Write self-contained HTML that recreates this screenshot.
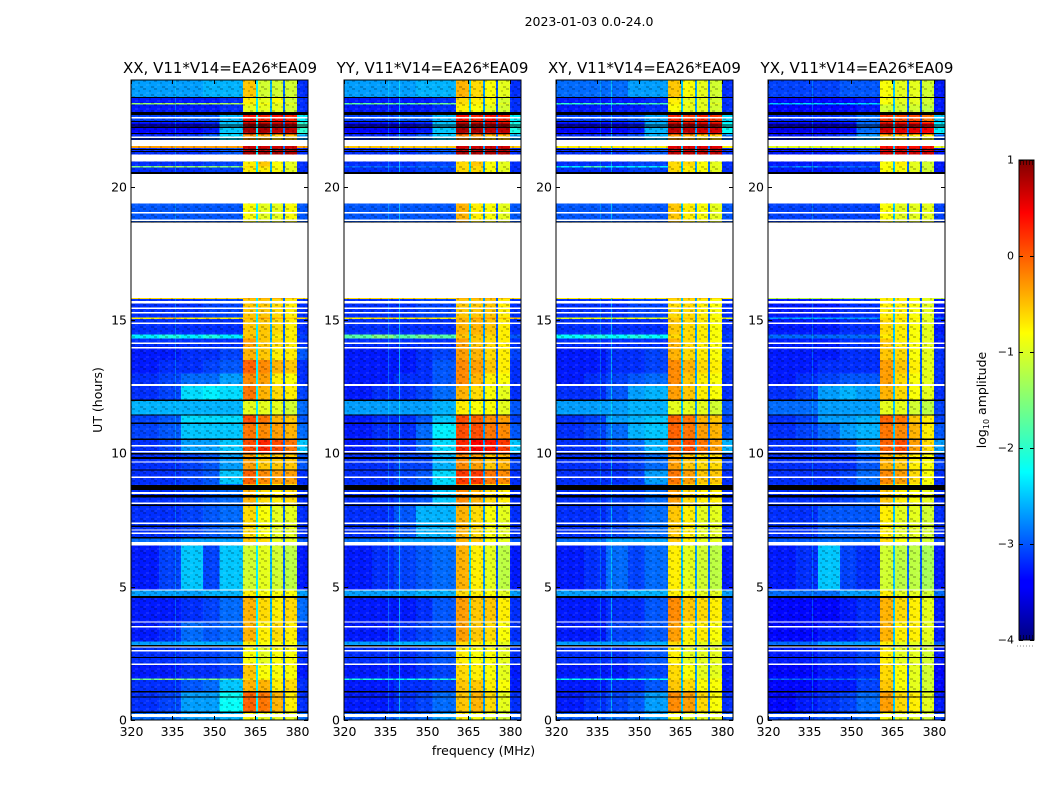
<!DOCTYPE html>
<html lang="en">
<head>
<meta charset="utf-8">
<title>2023-01-03 0.0-24.0</title>
<style>
html,body{margin:0;padding:0;background:#fff;width:1050px;height:800px;overflow:hidden}
svg{display:block}
text{font-family:"DejaVu Sans","Liberation Sans",sans-serif;fill:#000}
</style>
</head>
<body>
<svg id="figure" xmlns="http://www.w3.org/2000/svg" width="1050" height="800" viewBox="0 0 1050 800">
  <defs>
    <pattern id="speckle" width="11" height="8" patternUnits="userSpaceOnUse">
      <rect x="0" y="0" width="3" height="2" fill="#000" opacity="0.2"/>
      <rect x="6" y="2" width="2" height="2" fill="#000" opacity="0.16"/>
      <rect x="3" y="4" width="3" height="2" fill="#fff" opacity="0.08"/>
      <rect x="8" y="6" width="3" height="2" fill="#000" opacity="0.2"/>
      <rect x="1" y="6" width="2" height="2" fill="#fff" opacity="0.06"/>
    </pattern>
    <linearGradient id="jet-gradient" x1="0" y1="1" x2="0" y2="0">
      <stop offset="0" stop-color="#00007f"/>
      <stop offset="0.11" stop-color="#0000ff"/>
      <stop offset="0.125" stop-color="#0000ff"/>
      <stop offset="0.35" stop-color="#00ffff"/>
      <stop offset="0.38" stop-color="#19ffdd"/>
      <stop offset="0.64" stop-color="#ffff00"/>
      <stop offset="0.66" stop-color="#ffea00"/>
      <stop offset="0.89" stop-color="#ff0000"/>
      <stop offset="1" stop-color="#7f0000"/>
    </linearGradient>
  </defs>
  <text x="589" y="26" font-size="12.5" text-anchor="middle">2023-01-03 0.0-24.0</text>
  <text x="220" y="73" font-size="15" text-anchor="middle">XX, V11*V14=EA26*EA09</text>
  <text x="432.5" y="73" font-size="15" text-anchor="middle">YY, V11*V14=EA26*EA09</text>
  <text x="644.5" y="73" font-size="15" text-anchor="middle">XY, V11*V14=EA26*EA09</text>
  <text x="857" y="73" font-size="15" text-anchor="middle">YX, V11*V14=EA26*EA09</text>
  <text font-size="12.5" text-anchor="middle" transform="translate(102,400) rotate(-90)">UT (hours)</text>
  <text x="483.5" y="755" font-size="12.5" text-anchor="middle">frequency (MHz)</text>
  <text font-size="12.5" text-anchor="middle" transform="translate(986,400) rotate(-90)">log<tspan font-size="8" dy="3">10</tspan><tspan dy="-3"> amplitude</tspan></text>
  <g id="panels"></g>
  <g id="colorbar"></g>
</svg>
<script>
// Time axis (hours) and channel blocks (MHz)
const timeEdges = [0,0.32,1.04,1.5,1.56,2.1,2.8,2.95,3.7,4.6,4.9,6.6,6.85,8.05,8.85,9.4,9.98,10.5,11.1,11.45,12,12.55,13,13.5,14,14.3,14.46,15.03,15.09,15.78,15.82,18.65,19.37,20.5,20.72,20.78,20.95,21.2,21.45,21.52,21.75,21.95,22.4,22.8,23.08,23.14,23.35,24];
const channelBlocks = [[320,330],[330,338],[338,346],[346,352],[352,360.4],[360.4,365.1],[365.8,370.2],[370.9,374.9],[375.6,379.9],[379.9,384]];
const gapBlocks = [[365.1,365.8],[370.2,370.9],[374.9,375.6]];
const xTickLabels = [320,335,350,365,380];
const yTickLabels = [0,5,10,15,20];
const colorbarTicks = [1,0,-1,-2,-3,-4];
const whiteBands = [[0.12,0.22],[2.06,2.11],[2.56,2.62],[2.72,2.76],[3.47,3.52],[3.65,3.7],[4.85,4.9],[6.55,6.68],[6.98,7.03],[7.1,7.15],[7.35,7.4],[8.1,8.16],[8.48,8.55],[9.08,9.14],[9.65,9.7],[10.04,10.09],[10.26,10.31],[12.52,12.6],[13.94,13.99],[14.1,14.16],[14.85,14.9],[15.25,15.3],[15.42,15.47],[15.62,15.72],[18.72,18.76],[19,19.05],[21.56,21.72],[21.82,21.88],[22.55,22.62]];
const blackBands = [[0.27,0.32],[0.84,0.88],[1.04,1.08],[2.33,2.37],[2.76,2.81],[4.57,4.65],[6.8,6.86],[7.23,7.29],[8.03,8.08],[8.35,8.44],[8.62,8.82],[9.35,9.39],[9.78,9.86],[9.96,10.02],[10.5,10.55],[11.1,11.15],[11.42,11.46],[11.97,12.02],[18.65,18.69],[20.48,20.55],[21.3,21.33],[21.38,21.42],[21.76,21.8],[21.98,22.02],[22.2,22.25],[22.3,22.34],[22.42,22.46],[22.68,22.8],[23.33,23.37]];

// log10 amplitude per time row and channel block
const xxGaps = [-2.2,-2.5,-2.7];
const yyGaps = [-2.3,-2.6,-2.8];
const xyGaps = [-2.4,-2.6,-2.7];
const yxGaps = [-2.4,-2.7,-2.8];
const rfiXX = [336];
const rfiYY = [336,339.9];
const rfiXY = [336,339.9];
const rfiYX = [336];
const xxCells = [
[-2.7,-2.7,-2.6,-2.6,-2.5,-0.9,-1.0,-1.0,-1.0,-2.7],
[-3.0,-2.9,-2.6,-2.6,-2.1,-0.1,-0.2,-0.5,-0.8,-3.0],
[-3.0,-3.0,-2.8,-2.7,-2.4,-0.5,-0.5,-0.8,-0.7,-3.0],
[-1.6,-1.4,-1.6,-1.5,-1.7,-0.7,-0.8,-0.8,-0.8,-3.0],
[-3.1,-3.1,-3.0,-3.0,-2.9,-0.6,-0.9,-0.9,-0.9,-3.1],
[-3.0,-3.0,-2.9,-2.9,-2.8,-0.9,-1.0,-0.9,-0.9,-3.0],
[-2.6,-2.6,-2.5,-2.5,-2.5,-0.8,-0.9,-0.9,-0.9,-2.7],
[-3.1,-3.0,-2.7,-2.8,-2.7,-0.5,-0.8,-0.7,-0.8,-3.0],
[-3.1,-3.1,-3.0,-2.9,-2.7,-0.5,-0.7,-0.8,-0.7,-2.7],
[-2.6,-2.6,-2.6,-2.5,-2.5,-0.8,-0.9,-0.9,-0.9,-2.6],
[-3.1,-2.9,-2.4,-2.9,-2.4,-1.1,-1.0,-1.1,-1.2,-3.1],
[-2.7,-2.7,-2.6,-2.6,-2.6,-0.6,-0.7,-1.0,-1.0,-2.8],
[-3.0,-3.0,-2.9,-2.8,-2.7,-0.7,-0.9,-1.0,-1.0,-3.0],
[-3.0,-3.0,-2.9,-2.8,-2.7,-0.5,-0.7,-0.8,-0.7,-3.0],
[-3.0,-3.0,-2.9,-2.8,-2.4,-0.1,-0.3,-0.4,-0.4,-3.0],
[-3.0,-3.0,-2.9,-2.8,-2.6,-0.4,-0.6,-0.6,-0.6,-2.8],
[-3.0,-2.9,-2.6,-2.6,-2.4,0.0,0.2,0.0,-0.2,-2.4],
[-2.9,-2.8,-2.4,-2.4,-2.4,-0.2,-0.3,-0.4,-0.5,-2.7],
[-2.9,-2.8,-2.3,-2.3,-2.3,0.0,-0.2,-0.5,-0.6,-2.8],
[-2.5,-2.5,-2.5,-2.5,-2.5,-1.0,-1.0,-1.0,-1.1,-2.7],
[-3.0,-2.9,-2.3,-2.2,-2.3,-0.2,-0.5,-0.7,-0.8,-2.9],
[-3.0,-2.9,-2.7,-2.7,-2.6,-0.3,-0.4,-0.8,-0.9,-3.0],
[-3.1,-3.0,-3.0,-2.9,-2.8,-0.1,-0.3,-0.5,-0.6,-3.0],
[-3.1,-3.1,-3.0,-3.0,-2.9,-0.5,-0.6,-0.8,-0.8,-2.8],
[-3.0,-3.0,-3.0,-3.0,-3.0,-0.4,-0.6,-0.7,-0.8,-3.0],
[-2.2,-2.0,-2.2,-2.0,-2.2,-0.6,-0.6,-0.8,-0.8,-2.9],
[-3.0,-3.0,-3.0,-3.0,-3.0,-0.6,-0.6,-0.7,-0.8,-3.0],
[-0.8,-0.6,-0.8,-0.7,-0.8,-0.5,-0.4,-0.5,-0.6,-0.7],
[-3.0,-3.0,-3.0,-2.9,-2.9,-0.6,-0.6,-0.7,-0.8,-3.0],
[-0.7,-0.7,-0.7,-0.7,-0.7,-0.5,-0.5,-0.5,-0.6,-0.7],
null,
[-2.8,-2.8,-2.8,-2.8,-2.8,-0.9,-1.0,-1.0,-0.9,-2.8],
null,
[-3.0,-3.0,-3.0,-2.9,-2.9,-0.8,-0.8,-0.9,-1.0,-3.0],
[-1.5,-1.3,-1.4,-1.4,-1.5,-0.7,-0.7,-0.9,-1.0,-3.0],
[-3.0,-3.0,-3.0,-2.9,-2.9,-0.8,-0.6,-0.9,-1.0,-3.0],
null,
[-3.0,-3.0,-3.0,-2.9,-2.8,0.8,0.8,0.8,0.8,-3.0],
[-0.4,-0.4,-0.4,-0.4,-0.4,0.6,0.6,0.6,0.6,-0.4],
null,
[-3.0,-3.0,-2.9,-2.7,-2.3,-0.4,-0.5,-0.7,-0.6,-2.6],
[-3.2,-3.2,-3.2,-3.1,-2.4,0.8,0.8,0.7,0.7,-1.9],
[-2.9,-2.9,-2.8,-2.8,-2.5,0.3,0.2,0.3,0.2,-2.2],
[-3.1,-3.1,-3.1,-3.1,-3.0,-1.0,-1.0,-1.0,-1.1,-3.0],
[-1.4,-1.3,-1.4,-1.3,-1.3,-0.8,-0.9,-1.0,-1.0,-3.0],
[-3.1,-3.1,-3.1,-3.1,-3.0,-0.8,-1.0,-0.9,-1.1,-3.0],
[-2.6,-2.6,-2.6,-2.5,-2.5,-0.6,-1.1,-1.1,-1.1,-3.0]
];
const yyCells = [
[-2.8,-2.8,-2.7,-2.7,-2.6,-0.8,-0.9,-1.0,-1.1,-2.8],
[-3.1,-3.1,-3.0,-2.9,-2.7,-0.6,-0.5,-0.7,-1.0,-3.0],
[-3.1,-3.1,-3.0,-3.0,-2.9,-0.6,-0.6,-0.8,-0.9,-3.1],
[-2.0,-2.0,-2.1,-2.0,-2.0,-0.7,-0.8,-0.9,-1.0,-3.0],
[-3.1,-3.1,-3.1,-3.0,-2.9,-0.7,-0.8,-0.9,-1.0,-3.1],
[-3.0,-3.0,-3.0,-2.9,-2.8,-0.8,-0.9,-0.9,-1.0,-3.0],
[-2.6,-2.6,-2.5,-2.5,-2.5,-0.7,-0.8,-0.9,-1.0,-2.7],
[-3.1,-3.1,-3.0,-2.9,-2.8,-0.4,-0.6,-0.7,-0.9,-3.0],
[-3.1,-3.1,-3.1,-3.0,-2.8,-0.4,-0.6,-0.6,-0.8,-3.0],
[-2.6,-2.6,-2.6,-2.5,-2.5,-0.7,-0.8,-0.9,-1.0,-2.6],
[-3.1,-3.0,-2.9,-2.8,-2.7,-0.5,-0.8,-1.0,-1.2,-3.1],
[-2.7,-2.7,-2.6,-2.6,-2.6,-0.5,-0.6,-0.9,-1.0,-2.8],
[-3.0,-3.0,-2.8,-2.5,-2.5,-0.5,-0.7,-0.9,-1.0,-3.0],
[-3.0,-3.0,-2.9,-2.8,-2.4,-0.3,-0.5,-0.7,-0.8,-3.0],
[-3.0,-3.0,-2.9,-2.8,-2.3,0.1,0.1,-0.2,-0.3,-3.0],
[-3.0,-3.0,-2.9,-2.9,-2.5,-0.3,-0.4,-0.6,-0.5,-2.9],
[-3.1,-3.0,-3.0,-2.7,-2.3,0.2,0.4,0.3,0.1,-2.4],
[-3.1,-3.0,-3.0,-2.7,-2.2,0.0,0.0,-0.2,-0.3,-2.8],
[-3.1,-3.0,-3.0,-2.8,-2.4,0.0,-0.1,-0.3,-0.4,-2.9],
[-2.6,-2.6,-2.6,-2.6,-2.5,-0.8,-0.9,-0.9,-1.0,-2.8],
[-3.1,-3.0,-3.0,-2.9,-2.7,-0.5,-0.7,-0.9,-1.0,-3.0],
[-3.1,-3.1,-3.0,-3.0,-2.8,-0.3,-0.5,-0.8,-0.9,-3.0],
[-3.1,-3.1,-3.1,-3.0,-2.8,-0.3,-0.4,-0.6,-0.8,-3.0],
[-3.1,-3.1,-3.1,-3.0,-2.9,-0.4,-0.5,-0.7,-0.8,-2.9],
[-3.0,-3.0,-3.0,-3.0,-3.0,-0.4,-0.6,-0.7,-0.8,-3.0],
[-1.7,-1.5,-1.7,-1.6,-1.7,-0.6,-0.6,-0.7,-0.8,-2.8],
[-3.0,-3.0,-3.0,-3.0,-3.0,-0.5,-0.5,-0.6,-0.8,-3.0],
[-0.8,-0.7,-0.8,-0.7,-0.8,-0.5,-0.4,-0.4,-0.6,-0.6],
[-3.0,-3.0,-3.0,-2.9,-2.9,-0.6,-0.6,-0.6,-0.8,-3.0],
[-0.7,-0.7,-0.7,-0.7,-0.7,-0.5,-0.5,-0.5,-0.6,-0.7],
null,
[-2.8,-2.8,-2.8,-2.8,-2.8,-0.5,-0.8,-0.9,-1.0,-2.8],
null,
[-3.0,-3.0,-3.0,-2.9,-2.9,-0.7,-0.7,-0.9,-1.0,-3.0],
[-2.7,-2.7,-2.7,-2.7,-2.7,-0.7,-0.7,-0.9,-1.0,-3.0],
[-3.0,-3.0,-3.0,-2.9,-2.9,-0.7,-0.6,-0.9,-1.0,-3.0],
null,
[-3.0,-3.0,-3.0,-2.9,-2.8,0.8,0.8,0.8,0.8,-3.0],
[-0.6,-0.6,-0.6,-0.6,-0.6,0.6,0.6,0.6,0.6,-0.6],
null,
[-3.0,-3.0,-2.9,-2.7,-2.4,-0.3,-0.4,-0.6,-0.6,-2.6],
[-3.2,-3.2,-3.2,-3.1,-2.4,0.8,0.8,0.7,0.7,-2.0],
[-2.9,-2.9,-2.8,-2.8,-2.5,0.3,0.2,0.3,0.2,-2.2],
[-3.1,-3.1,-3.1,-3.1,-3.0,-0.8,-0.9,-1.0,-1.1,-3.0],
[-1.7,-1.6,-1.7,-1.6,-1.6,-0.7,-0.8,-0.9,-1.0,-3.0],
[-3.1,-3.1,-3.1,-3.1,-3.0,-0.7,-0.8,-0.9,-1.1,-3.0],
[-2.6,-2.6,-2.6,-2.5,-2.5,-0.5,-0.7,-0.9,-1.0,-3.0]
];
const xyCells = [
[-2.8,-2.8,-2.7,-2.7,-2.6,-0.9,-1.0,-1.0,-1.0,-2.8],
[-3.1,-3.0,-2.9,-2.8,-2.6,-0.3,-0.4,-0.7,-0.9,-3.0],
[-3.1,-3.1,-3.0,-3.0,-2.8,-0.6,-0.7,-0.9,-0.9,-3.1],
[-2.1,-2.0,-2.1,-2.0,-2.1,-0.7,-0.8,-0.9,-0.9,-3.0],
[-3.1,-3.1,-3.1,-3.0,-2.9,-0.7,-0.9,-1.0,-1.0,-3.1],
[-3.0,-3.0,-3.0,-2.9,-2.8,-0.8,-1.0,-1.0,-1.0,-3.0],
[-2.6,-2.6,-2.6,-2.5,-2.5,-0.7,-0.9,-1.0,-1.0,-2.7],
[-3.1,-3.1,-2.9,-2.9,-2.8,-0.4,-0.8,-0.8,-0.9,-3.0],
[-3.1,-3.1,-3.0,-3.0,-2.8,-0.3,-0.6,-0.7,-0.8,-2.9],
[-2.6,-2.6,-2.6,-2.5,-2.5,-0.8,-0.9,-1.0,-1.0,-2.6],
[-3.1,-3.0,-2.7,-2.9,-2.7,-0.8,-1.0,-1.1,-1.2,-3.1],
[-2.7,-2.7,-2.6,-2.6,-2.6,-0.6,-0.8,-1.0,-1.0,-2.8],
[-3.0,-3.0,-2.9,-2.8,-2.7,-0.6,-0.8,-1.0,-1.0,-3.0],
[-3.0,-3.0,-2.9,-2.9,-2.7,-0.4,-0.7,-0.8,-0.8,-3.0],
[-3.0,-3.0,-3.0,-2.9,-2.6,-0.2,-0.4,-0.6,-0.6,-3.0],
[-3.0,-3.0,-3.0,-2.9,-2.7,-0.4,-0.6,-0.7,-0.7,-2.9],
[-3.0,-3.0,-2.8,-2.7,-2.5,-0.1,0.0,-0.2,-0.4,-2.5],
[-3.0,-2.9,-2.7,-2.5,-2.4,-0.1,-0.2,-0.4,-0.5,-2.8],
[-3.0,-2.9,-2.6,-2.5,-2.4,-0.1,-0.2,-0.5,-0.6,-2.9],
[-2.6,-2.6,-2.6,-2.5,-2.5,-1.0,-1.0,-1.0,-1.1,-2.8],
[-3.0,-3.0,-2.8,-2.6,-2.5,-0.4,-0.6,-0.8,-0.9,-3.0],
[-3.1,-3.0,-2.9,-2.8,-2.7,-0.3,-0.6,-0.8,-0.9,-3.0],
[-3.1,-3.1,-3.0,-3.0,-2.9,-0.3,-0.5,-0.7,-0.8,-3.0],
[-3.1,-3.1,-3.0,-3.0,-2.9,-0.5,-0.7,-0.8,-0.9,-2.9],
[-3.0,-3.0,-3.0,-3.0,-3.0,-0.5,-0.7,-0.8,-0.9,-3.0],
[-2.1,-2.0,-2.1,-2.0,-2.1,-0.7,-0.7,-0.8,-0.9,-2.9],
[-3.0,-3.0,-3.0,-3.0,-3.0,-0.6,-0.7,-0.8,-0.9,-3.0],
[-1.0,-0.9,-1.0,-0.9,-1.0,-0.6,-0.6,-0.7,-0.8,-1.0],
[-3.0,-3.0,-3.0,-2.9,-2.9,-0.7,-0.7,-0.8,-0.9,-3.0],
[-0.8,-0.8,-0.8,-0.8,-0.8,-0.6,-0.6,-0.6,-0.7,-0.8],
null,
[-2.8,-2.8,-2.8,-2.8,-2.8,-0.6,-0.8,-0.9,-1.0,-2.8],
null,
[-3.0,-3.0,-3.0,-2.9,-2.9,-0.7,-0.8,-0.9,-1.0,-3.0],
[-2.2,-1.8,-2.2,-2.2,-2.2,-0.7,-0.8,-0.9,-1.0,-3.0],
[-3.0,-3.0,-3.0,-2.9,-2.9,-0.7,-0.7,-0.9,-1.0,-3.0],
null,
[-3.0,-3.0,-3.0,-2.9,-2.8,0.7,0.7,0.7,0.7,-3.0],
[-0.8,-0.8,-0.8,-0.8,-0.8,0.5,0.5,0.5,0.5,-0.8],
null,
[-3.0,-3.0,-2.9,-2.8,-2.5,-0.4,-0.5,-0.7,-0.7,-2.7],
[-3.2,-3.2,-3.2,-3.1,-2.5,0.7,0.7,0.6,0.6,-2.1],
[-2.9,-2.9,-2.9,-2.8,-2.6,0.2,0.1,0.2,0.1,-2.3],
[-3.1,-3.1,-3.1,-3.1,-3.0,-0.9,-1.0,-1.0,-1.1,-3.0],
[-1.9,-1.8,-1.9,-1.8,-1.8,-0.8,-0.9,-1.0,-1.0,-3.0],
[-3.1,-3.1,-3.1,-3.1,-3.0,-0.8,-1.0,-1.0,-1.1,-3.0],
[-2.7,-2.7,-2.7,-2.6,-2.6,-0.6,-0.9,-1.0,-1.1,-3.0]
];
const yxCells = [
[-2.9,-2.9,-2.8,-2.8,-2.7,-0.9,-1.0,-1.0,-1.1,-2.9],
[-3.2,-3.1,-3.0,-2.9,-2.7,-0.4,-0.7,-0.8,-1.0,-3.1],
[-3.2,-3.2,-3.1,-3.1,-2.9,-0.6,-0.9,-1.0,-1.1,-3.2],
[-2.7,-2.7,-2.7,-2.7,-2.7,-0.7,-0.9,-1.0,-1.1,-3.1],
[-3.2,-3.2,-3.1,-3.1,-3.0,-0.7,-0.9,-1.0,-1.1,-3.2],
[-3.1,-3.1,-3.0,-3.0,-2.9,-0.8,-1.0,-1.0,-1.1,-3.1],
[-2.7,-2.7,-2.6,-2.6,-2.6,-0.8,-1.0,-1.0,-1.1,-2.8],
[-3.2,-3.2,-3.1,-3.1,-3.0,-0.5,-0.8,-0.8,-1.0,-3.1],
[-3.2,-3.2,-3.2,-3.1,-3.0,-0.5,-0.7,-0.8,-1.0,-3.1],
[-2.7,-2.7,-2.7,-2.6,-2.6,-0.8,-1.0,-1.0,-1.1,-2.7],
[-3.1,-3.0,-2.4,-2.9,-3.0,-1.1,-1.2,-1.2,-1.3,-3.1],
[-2.8,-2.8,-2.7,-2.7,-2.7,-0.7,-0.9,-1.0,-1.1,-2.9],
[-3.0,-3.0,-2.8,-2.8,-2.8,-0.8,-1.0,-1.0,-1.1,-3.0],
[-3.0,-3.0,-3.0,-2.9,-2.8,-0.6,-0.8,-0.9,-1.0,-3.0],
[-3.0,-3.0,-3.0,-2.9,-2.7,-0.3,-0.4,-0.7,-0.9,-3.0],
[-3.0,-3.0,-3.0,-3.0,-2.8,-0.5,-0.6,-0.8,-0.9,-2.9],
[-3.0,-3.0,-2.9,-2.8,-2.6,-0.1,0.0,-0.4,-0.7,-2.6],
[-3.0,-2.9,-2.7,-2.6,-2.5,-0.2,-0.3,-0.5,-0.8,-2.8],
[-3.0,-2.9,-2.6,-2.6,-2.5,-0.1,-0.2,-0.6,-0.8,-2.9],
[-2.7,-2.7,-2.6,-2.6,-2.6,-1.0,-1.0,-1.1,-1.2,-2.9],
[-3.0,-2.9,-2.6,-2.5,-2.6,-0.5,-0.7,-0.9,-1.0,-3.0],
[-3.1,-3.0,-2.9,-2.8,-2.8,-0.4,-0.7,-0.9,-1.0,-3.0],
[-3.1,-3.1,-3.0,-3.0,-3.0,-0.4,-0.6,-0.8,-1.0,-3.0],
[-3.1,-3.1,-3.1,-3.0,-3.0,-0.6,-0.7,-0.9,-1.0,-3.0],
[-3.1,-3.1,-3.1,-3.0,-3.0,-0.6,-0.8,-0.9,-1.0,-3.1],
[-2.7,-2.7,-2.7,-2.7,-2.7,-0.8,-0.8,-0.9,-1.0,-3.0],
[-3.1,-3.1,-3.1,-3.0,-3.0,-0.7,-0.8,-0.9,-1.0,-3.1],
[-2.6,-2.5,-2.6,-2.6,-2.6,-0.7,-0.7,-0.8,-1.0,-2.7],
[-3.1,-3.1,-3.1,-3.0,-3.0,-0.8,-0.8,-0.9,-1.0,-3.1],
[-1.2,-1.2,-1.2,-1.2,-1.2,-0.8,-0.8,-0.8,-1.0,-1.2],
null,
[-2.9,-2.9,-2.9,-2.9,-2.9,-0.9,-1.0,-1.0,-1.0,-2.9],
null,
[-3.1,-3.1,-3.1,-3.0,-3.0,-0.9,-0.9,-1.0,-1.1,-3.1],
[-2.7,-2.6,-2.7,-2.7,-2.7,-0.9,-0.9,-1.0,-1.1,-3.1],
[-3.1,-3.1,-3.1,-3.0,-3.0,-0.9,-0.8,-1.0,-1.1,-3.1],
null,
[-3.1,-3.1,-3.1,-3.0,-2.9,0.6,0.6,0.6,0.6,-3.1],
[-1.0,-1.0,-1.0,-1.0,-1.0,0.3,0.3,0.3,0.3,-1.0],
null,
[-3.1,-3.1,-3.0,-2.8,-2.6,-0.6,-0.7,-0.9,-0.9,-2.8],
[-3.3,-3.3,-3.3,-3.2,-2.7,0.6,0.5,0.5,0.4,-2.2],
[-3.0,-3.0,-3.0,-2.9,-2.7,0.1,0.0,0.0,-0.2,-2.4],
[-3.2,-3.2,-3.2,-3.2,-3.1,-1.1,-1.1,-1.1,-1.2,-3.1],
[-2.4,-2.3,-2.4,-2.3,-2.3,-0.9,-1.0,-1.0,-1.1,-3.1],
[-3.2,-3.2,-3.2,-3.2,-3.1,-0.9,-1.0,-1.0,-1.1,-3.1],
[-2.9,-2.9,-2.9,-2.8,-2.8,-0.9,-1.0,-1.0,-1.1,-3.1]
];
const panelNames = ['xx','yy','xy','yx'];
const panelCells = [xxCells,yyCells,xyCells,yxCells];
const panelGaps = [xxGaps,yyGaps,xyGaps,yxGaps];
const panelRfi = [rfiXX,rfiYY,rfiXY,rfiYX];

const SVG_NS = 'http://www.w3.org/2000/svg';
const plotTop = 80, plotBottom = 720, plotWidth = 177;
const panelLefts = [131,344,556,768];
const minFreq = 320, maxFreq = 384, minHour = 0, maxHour = 24;
const minLog = -4, maxLog = 1;
// Noise floor cells read slightly high against the mean colour of the speckled reference.
const floorThreshold = -2.65, floorBias = -0.15;

function xScale(left, mhz){ return left + (mhz - minFreq) / (maxFreq - minFreq) * plotWidth; }
function yScale(hour){ return plotBottom - (hour - minHour) / (maxHour - minHour) * (plotBottom - plotTop); }
function clamp01(v){ return Math.max(0, Math.min(1, v)); }
function jet(raw){
  const value = raw < floorThreshold ? raw + floorBias : raw;
  const t = clamp01((value - minLog) / (maxLog - minLog));
  const r = clamp01(Math.min(4 * t - 1.5, -4 * t + 4.5));
  const g = clamp01(Math.min(4 * t - 0.5, -4 * t + 3.5));
  const b = clamp01(Math.min(4 * t + 0.5, -4 * t + 2.5));
  return 'rgb(' + Math.round(r * 255) + ',' + Math.round(g * 255) + ',' + Math.round(b * 255) + ')';
}
function make(tag, attrs, parent){
  const el = document.createElementNS(SVG_NS, tag);
  for (const k in attrs) el.setAttribute(k, attrs[k]);
  parent.appendChild(el);
  return el;
}
function band(left, x0, x1, h0, h1, fill, parent){
  const a = Math.round(xScale(left, x0) * 4) / 4, b = Math.round(xScale(left, x1) * 4) / 4;
  const top = yScale(h1), bottom = yScale(h0);
  return make('rect', {x:a, y:top, width:b - a, height:bottom - top, fill:fill, 'shape-rendering':'crispEdges'}, parent);
}

const panelsRoot = document.getElementById('panels');
panelNames.forEach(function(name, p){
  const left = panelLefts[p], right = left + plotWidth;
  const cells = panelCells[p], gaps = panelGaps[p], rfi = panelRfi[p];
  const group = make('g', {}, panelsRoot);
  
  

  cells.forEach(function(row, r){
    if (row === null) return;
    const h0 = timeEdges[r], h1 = timeEdges[r + 1];
    row.forEach(function(value, c){
      const cell = band(left, channelBlocks[c][0], channelBlocks[c][1], h0, h1, jet(value), group);
      
      
    });
    gaps.forEach(function(value, g){
      const gapCell = band(left, gapBlocks[g][0], gapBlocks[g][1], h0, h1, jet(value), group);
      
      
    });
    rfi.forEach(function(mhz){
      const line = band(left, mhz, mhz + 0.3, h0, h1, jet(-2.1), group);
      line.setAttribute('opacity', '0.6');
      
      
    });
    const tex = make('rect', {x:left, y:yScale(h1), width:plotWidth, height:yScale(h0) - yScale(h1), fill:'url(#speckle)'}, group);
    
    
  });

  whiteBands.forEach(function(b){
    const w = band(left, minFreq, maxFreq, b[0], b[1], '#fff', group);
    
    
  });
  blackBands.forEach(function(b){
    const k = band(left, minFreq, maxFreq, b[0], b[1], '#000', group);
    
    
  });

  const frame = make('rect', {x:left, y:plotTop, width:plotWidth, height:plotBottom - plotTop, fill:'none', stroke:'#000', 'stroke-width':1}, group);
  
  

  xTickLabels.forEach(function(v){
    const x = Math.round(xScale(left, v)) + 0.5;
    const t1 = make('line', {x1:x, x2:x, y1:plotBottom, y2:plotBottom - 4, stroke:'#000'}, group);
    
    
    const t2 = make('line', {x1:x, x2:x, y1:plotTop, y2:plotTop + 4, stroke:'#000'}, group);
    
    
    const lbl = make('text', {x:x, y:736, 'font-size':12.5, 'text-anchor':'middle'}, group);
    lbl.textContent = v;
    
    
  });
  yTickLabels.forEach(function(v){
    const y = Math.round(yScale(v)) + 0.5;
    const t1 = make('line', {x1:left, x2:left + 4, y1:y, y2:y, stroke:'#000'}, group);
    
    
    const t2 = make('line', {x1:right, x2:right - 4, y1:y, y2:y, stroke:'#000'}, group);
    
    
    const lbl = make('text', {x:left - 4, y:y + 4, 'font-size':12.5, 'text-anchor':'end'}, group);
    lbl.textContent = v;
    
    
  });
});

const cbRoot = document.getElementById('colorbar');
const cbLeft = 1019, cbRight = 1034, cbTop = 160, cbBottom = 640;
function cbScale(v){ return cbBottom - (v - minLog) / (maxLog - minLog) * (cbBottom - cbTop); }
const cbBar = make('rect', {x:cbLeft, y:cbTop, width:cbRight - cbLeft, height:cbBottom - cbTop, fill:'url(#jet-gradient)', stroke:'#000', 'stroke-width':1}, cbRoot);


const cbTopMinor = make('line', {x1:1020, x2:1033, y1:162.5, y2:162.5, stroke:'#000', 'stroke-width':5, 'stroke-dasharray':'1 2', opacity:0.6}, cbRoot);


const cbBottomMinor = make('line', {x1:1020, x2:1033, y1:637.5, y2:637.5, stroke:'#000', 'stroke-width':5, 'stroke-dasharray':'1 2', opacity:0.6}, cbRoot);


const cbDots = make('line', {x1:1017, x2:1034, y1:646, y2:646, stroke:'#888', 'stroke-width':1, 'stroke-dasharray':'1 2'}, cbRoot);


colorbarTicks.forEach(function(v){
  const y = Math.round(cbScale(v)) + 0.5;
  const t1 = make('line', {x1:cbLeft, x2:cbLeft + 4, y1:y, y2:y, stroke:'#000'}, cbRoot);
  
  
  const t2 = make('line', {x1:cbRight, x2:cbRight - 4, y1:y, y2:y, stroke:'#000'}, cbRoot);
  
  
  const lbl = make('text', {x:1014, y:y + 3, 'font-size':11, 'text-anchor':'end'}, cbRoot);
  lbl.textContent = String(v).replace('-', '\u2212');
  
  
});
</script>
</body>
</html>
